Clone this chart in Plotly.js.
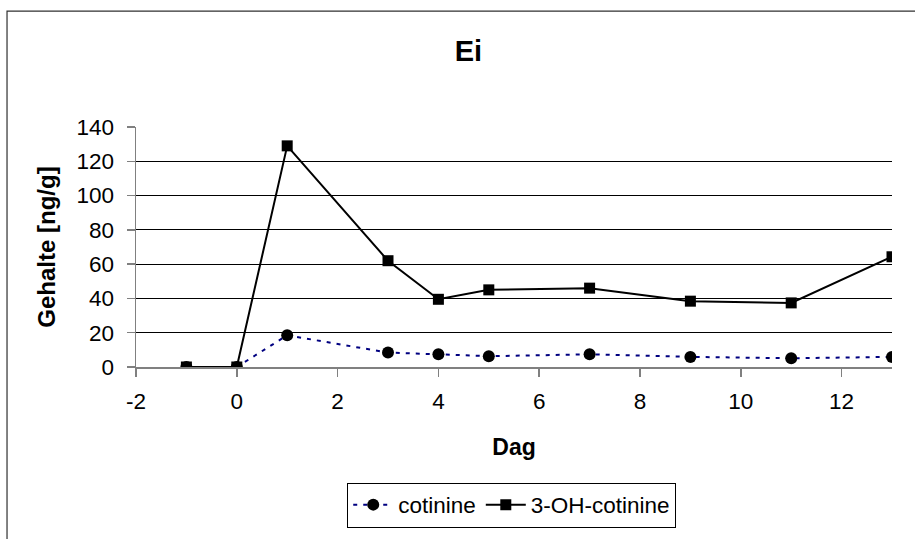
<!DOCTYPE html>
<html>
<head>
<meta charset="utf-8">
<script src="https://cdn.plot.ly/plotly-3.0.1.min.js"></script>
<style>html,body{margin:0;padding:0;background:#fff;}#chart{width:915px;height:539px;}</style>
</head>
<body>
<div id="chart"></div>
<script>
const dag = [-1, 0, 1, 3, 4, 5, 7, 9, 11, 13];
const cotinine = [0, 0, 18.5, 8.4, 7.4, 6.3, 7.4, 5.9, 5.1, 5.9];
const ohCotinine = [0, 0, 129, 62, 39.5, 45, 46, 38.4, 37.4, 64.3];
const xTicks = [-2, 0, 2, 4, 6, 8, 10, 12];
const yTicks = [0, 20, 40, 60, 80, 100, 120, 140];

const font = 'Liberation Sans, Arial, sans-serif';

const traces = [
  {
    x: dag, y: cotinine, name: 'cotinine', type: 'scatter', mode: 'lines+markers',
    line: {color: '#000080', width: 2, dash: '4px,6px'},
    marker: {symbol: 'circle', size: 12, color: '#000000'}
  },
  {
    x: dag, y: ohCotinine, name: '3-OH-cotinine', type: 'scatter', mode: 'lines+markers',
    line: {color: '#000000', width: 2},
    marker: {symbol: 'square', size: 11, color: '#000000'}
  }
];

const layout = {
  width: 915, height: 539,
  margin: {l: 136, r: 23, t: 127, b: 172},
  paper_bgcolor: '#ffffff', plot_bgcolor: '#ffffff',
  font: {family: font, color: '#000000', size: 22},
  showlegend: true,
  title: {
    text: '<b>Ei</b>', font: {family: font, size: 29, color: '#000'},
    x: 0.512, xanchor: 'center', y: 0.905, yanchor: 'middle', xref: 'container', yref: 'container'
  },
  xaxis: {
    range: [-2, 13], tickvals: xTicks, ticktext: xTicks.map(String),
    showgrid: false, zeroline: false,
    showline: true, linecolor: '#808080', linewidth: 1.5,
    ticks: 'outside', ticklen: 8, tickcolor: '#808080', tickwidth: 1.5,
    ticklabelstandoff: 5,
    tickfont: {family: font, size: 22.5, color: '#000'},
    title: {text: '<b>Dag</b>', font: {family: font, size: 23, color: '#000'}, standoff: 26}
  },
  yaxis: {
    range: [0, 140], tickvals: yTicks, ticktext: yTicks.map(String),
    showgrid: true, gridcolor: '#000000', gridwidth: 1,
    zeroline: false,
    showline: true, linecolor: '#808080', linewidth: 1.5,
    ticks: 'outside', ticklen: 8, tickcolor: '#808080', tickwidth: 1.5,
    ticklabelstandoff: 8,
    tickfont: {family: font, size: 22.5, color: '#000'},
    title: {text: '<b>Gehalte [ng/g]</b>', font: {family: font, size: 24, color: '#000'}, standoff: 14}
  },
  legend: {
    orientation: 'h', x: 0.497, xanchor: 'center', y: -0.575, yanchor: 'middle',
    bordercolor: '#000000', borderwidth: 1, bgcolor: '#ffffff',
    font: {family: font, size: 22.5, color: '#000'},
    itemwidth: 40, tracegroupgap: 0
  },
  shapes: [
    {type: 'rect', xref: 'paper', yref: 'paper', x0: -0.1706, x1: 1.2, y0: 1.483, y1: -1.0,
     line: {color: '#303030', width: 1.2}, fillcolor: 'rgba(0,0,0,0)', layer: 'below'}
  ]
};

Plotly.newPlot('chart', traces, layout, {displayModeBar: false, staticPlot: true});
</script>
</body>
</html>
